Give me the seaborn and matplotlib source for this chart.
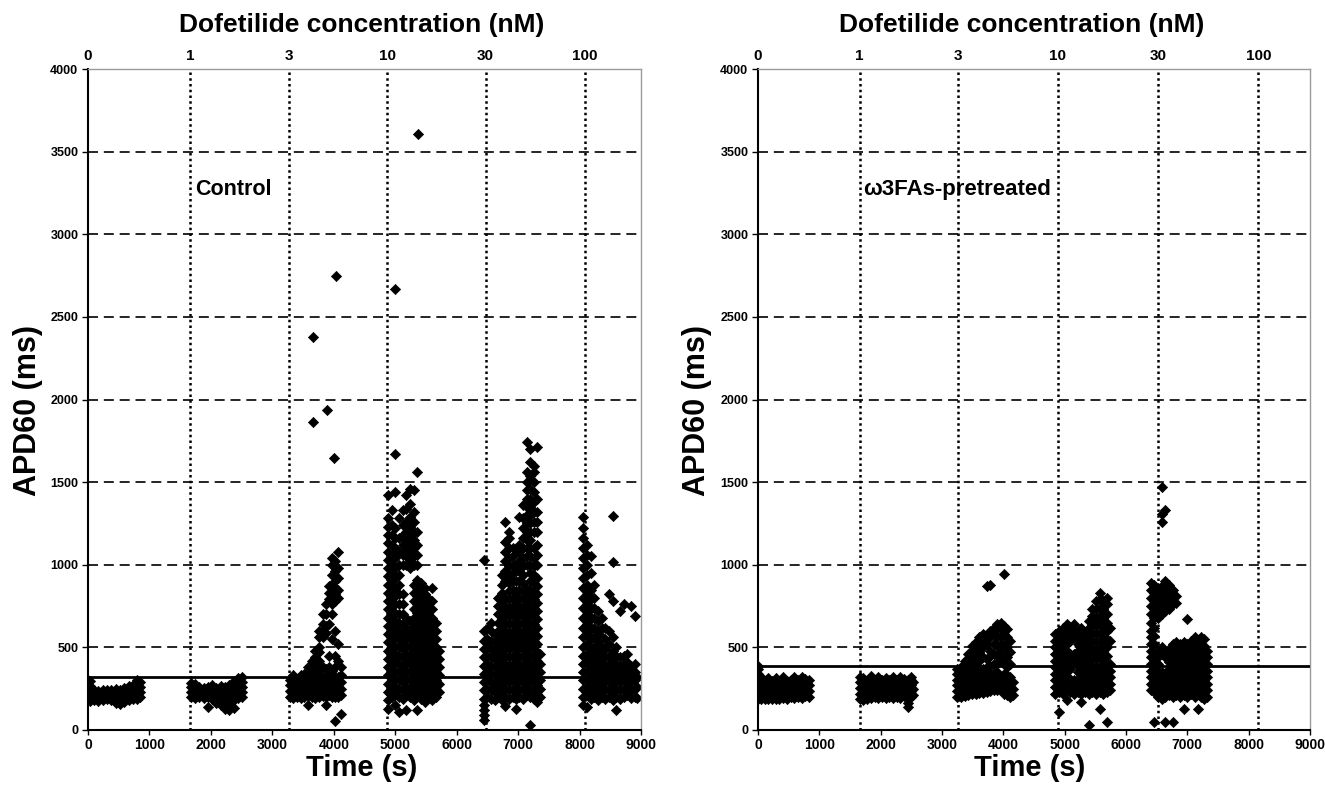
import matplotlib
matplotlib.use("Agg")
import matplotlib.pyplot as plt
import seaborn as sns
import pandas as pd

# ---------------- data ----------------
conc_labels = ["0", "1", "3", "10", "30", "100"]
ctrl_conc_times = [0, 1660, 3270, 4870, 6470, 8090]
omega_conc_times = [0, 1655, 3265, 4890, 6525, 8160]
ctrl_threshold = 320
omega_threshold = 390

# Control: (time, [APD60 values at that time])
ctrl_0nM = [
    (0, [185, 215, 245, 280, 305]), (40, [175, 205, 235, 265, 295]),
    (100, [180, 210, 240]), (170, [175, 205, 235]), (240, [180, 210, 240]),
    (310, [185, 215, 245]), (380, [180, 210, 240]), (450, [165, 195, 225, 250]),
    (520, [160, 190, 220, 245]), (590, [170, 200, 230, 255]),
    (660, [180, 210, 240, 265]), (730, [185, 215, 245, 275]),
    (800, [190, 220, 250, 280, 300]), (850, [200, 230, 260, 290]),
]
ctrl_1nM = [
    (1680, [200, 230, 260, 285]), (1740, [195, 225, 255, 280]),
    (1810, [200, 230, 260]), (1880, [195, 225, 255]),
    (1950, [140, 200, 230, 260]), (2020, [190, 220, 250, 270]),
    (2090, [165, 195, 225, 255]), (2160, [150, 175, 205, 235, 265]),
    (2230, [130, 160, 200, 230, 260]), (2300, [120, 150, 185, 215, 245, 270]),
    (2370, [135, 180, 210, 240, 270, 295]), (2440, [195, 225, 255, 285, 315]),
    (2510, [200, 230, 260, 290, 320]),
]
ctrl_3nM = [
    (3280, [200, 235, 270, 305]), (3340, [195, 230, 265, 300, 330]),
    (3400, [200, 235, 270, 305]), (3460, [195, 230, 265, 300, 335]),
    (3520, [200, 235, 270, 305, 340]),
    (3580, [150, 205, 240, 275, 310, 350, 380]),
    (3640, [200, 235, 270, 305, 340, 380, 420]),
    (3700, [195, 230, 265, 300, 340, 390, 440, 480]),
    (3760, [200, 235, 270, 310, 360, 420, 470, 500, 560, 600]),
    (3820, [205, 240, 280, 320, 380, 560, 600, 640, 700]),
    (3870, [150, 200, 240, 280, 320, 370, 590, 630, 700, 760]),
    (3920, [210, 250, 290, 330, 380, 450, 640, 790, 830, 870]),
    (3970, [200, 240, 280, 320, 360, 550, 700, 760, 820, 880, 940, 1000, 1040]),
    (4020, [55, 200, 240, 280, 320, 380, 450, 600, 780, 820, 860, 900, 960, 1020]),
    (4070, [200, 240, 280, 320, 420, 520, 800, 850, 920, 980, 1080]),
    (4110, [95, 210, 250, 290, 330, 380]),
]
ctrl_10nM = [
    (4880, [130, 180, 230, 280, 330, 380, 430, 480, 530, 580, 630, 680, 730, 780, 830, 880, 930, 980, 1030, 1080, 1130, 1180, 1230, 1280, 1420]),
    (4940, [200, 250, 300, 350, 400, 450, 500, 550, 600, 650, 700, 750, 800, 850, 900, 950, 1000, 1060, 1120, 1180, 1240, 1330]),
    (5000, [150, 210, 260, 310, 360, 410, 460, 510, 560, 610, 660, 710, 760, 810, 860, 920, 980, 1040, 1100, 1160, 1220, 1440, 1670]),
    (5060, [110, 200, 250, 300, 350, 400, 450, 500, 550, 600, 650, 700, 760, 820, 880, 940, 1000, 1080, 1160, 1280]),
    (5120, [190, 240, 290, 340, 390, 440, 490, 540, 590, 640, 700, 760, 820, 1000, 1060, 1120, 1180, 1240, 1330]),
    (5180, [120, 210, 260, 310, 360, 410, 460, 510, 560, 620, 680, 1000, 1050, 1100, 1150, 1200, 1260, 1340, 1420]),
    (5240, [200, 250, 300, 350, 400, 450, 500, 550, 600, 660, 980, 1030, 1080, 1130, 1180, 1230, 1290, 1370, 1460]),
    (5300, [180, 230, 280, 330, 380, 430, 480, 530, 580, 630, 680, 730, 780, 830, 880, 1000, 1050, 1100, 1150, 1200, 1260, 1320, 1450]),
    (5360, [120, 210, 260, 310, 360, 410, 460, 510, 560, 610, 660, 710, 760, 810, 860, 910, 1000, 1060, 1120, 1200, 1560]),
    (5420, [190, 240, 290, 340, 390, 440, 490, 540, 590, 640, 690, 740, 790, 840, 890]),
    (5480, [170, 220, 270, 320, 370, 420, 470, 520, 570, 620, 670, 720, 770, 820, 860]),
    (5540, [200, 250, 300, 350, 400, 450, 500, 550, 600, 650, 700, 750, 800]),
    (5600, [180, 230, 280, 330, 380, 430, 480, 530, 580, 630, 680, 730, 780, 860]),
    (5660, [200, 250, 300, 350, 400, 450, 500, 550, 600, 650]),
    (5710, [230, 280, 330, 380, 430, 480]),
]
ctrl_30nM = [
    (6440, [60, 90, 120, 150, 190, 240, 290, 340, 390, 440, 490, 540, 600, 1030]),
    (6500, [200, 250, 300, 350, 400, 450, 500, 550, 610]),
    (6560, [190, 240, 290, 340, 390, 440, 490, 540, 600, 650]),
    (6620, [180, 230, 280, 330, 380, 430, 480, 530, 580]),
    (6680, [200, 250, 300, 350, 400, 450, 500, 550, 600, 650, 700, 750, 800]),
    (6740, [180, 230, 280, 330, 380, 430, 480, 530, 580, 630, 680, 730, 780, 830, 880, 940]),
    (6790, [145, 200, 250, 300, 350, 400, 450, 500, 550, 600, 650, 700, 750, 800, 900, 960, 1020, 1080, 1140, 1260]),
    (6850, [190, 240, 290, 340, 390, 440, 490, 540, 590, 640, 690, 740, 790, 840, 890, 940, 990, 1040, 1100, 1160, 1200]),
    (6910, [200, 250, 300, 350, 400, 450, 500, 550, 600, 650, 700, 750, 800, 850, 900, 950, 1000, 1050, 1100]),
    (6960, [130, 190, 240, 290, 340, 390, 440, 490, 540, 590, 640, 690, 740, 790, 840, 900, 960, 1000]),
    (7020, [200, 250, 300, 350, 400, 450, 500, 550, 600, 650, 700, 750, 800, 850, 900, 960, 1020, 1080, 1120, 1290]),
    (7080, [190, 240, 290, 340, 390, 440, 490, 540, 590, 640, 690, 740, 790, 840, 890, 940, 990, 1040, 1100, 1160, 1220, 1280, 1360]),
    (7140, [210, 260, 310, 360, 410, 460, 510, 560, 610, 660, 710, 760, 810, 855, 1000, 1050, 1100, 1150, 1200, 1250, 1300, 1350, 1400, 1450, 1500, 1560, 1740]),
    (7200, [30, 200, 250, 300, 350, 400, 450, 500, 550, 600, 650, 700, 750, 800, 850, 900, 950, 1000, 1050, 1100, 1150, 1200, 1250, 1300, 1350, 1400, 1460, 1540, 1620, 1700]),
    (7260, [190, 240, 290, 340, 390, 440, 490, 540, 590, 640, 690, 740, 790, 840, 890, 940, 990, 1040, 1100, 1200, 1260, 1320, 1380, 1440, 1500, 1560, 1600]),
    (7310, [170, 220, 270, 320, 370, 420, 470, 520, 570, 620, 670, 720, 770, 820, 870, 920, 1000, 1060, 1120, 1200, 1260, 1320, 1400, 1715]),
    (7350, [200, 250, 300, 350, 400, 460]),
]
ctrl_100nM = [
    (8060, [150, 200, 250, 300, 350, 400, 450, 500, 560, 620, 680, 740, 800, 860, 920, 980, 1040, 1100, 1160, 1220, 1290]),
    (8120, [140, 210, 260, 310, 360, 410, 460, 520, 580, 640, 700, 760, 820, 880, 940, 1000, 1060, 1120]),
    (8180, [190, 240, 290, 340, 390, 440, 490, 550, 610, 670, 730, 790, 850, 950, 1050]),
    (8240, [200, 250, 300, 350, 400, 450, 500, 560, 620, 680, 740, 800, 880]),
    (8300, [180, 230, 280, 330, 380, 430, 480, 540, 600, 660, 720]),
    (8360, [200, 250, 300, 350, 400, 450, 500, 560, 620, 680]),
    (8420, [190, 240, 290, 340, 390, 440, 490, 550, 620]),
    (8480, [200, 250, 300, 350, 400, 450, 520, 600, 820]),
    (8540, [180, 230, 280, 330, 380, 430, 480, 560, 780, 1015, 1295]),
    (8600, [120, 200, 250, 300, 350, 400, 450, 500]),
    (8660, [190, 240, 290, 340, 390, 440, 720]),
    (8720, [200, 250, 300, 350, 400, 450, 760]),
    (8780, [210, 260, 310, 360, 410, 460]),
    (8840, [195, 240, 290, 340, 390, 750]),
    (8900, [200, 250, 300, 350, 400, 690]),
    (8930, [195, 260, 320]),
]
ctrl_outliers = [
    (3667, [1863, 2377]), (3895, [1935]), (4004, [1648]), (4036, [2745]),
    (4997, [2670]), (5376, [3605]),
]

# omega-3 fatty acids pretreated
omega_0nM = [
    (0, [190, 225, 260, 295, 340, 370, 385]), (50, [185, 220, 255, 290, 320]),
    (110, [190, 225, 260, 295]), (170, [185, 220, 255, 290, 315]),
    (230, [190, 225, 260, 295]), (290, [185, 220, 255, 290, 315]),
    (350, [190, 225, 260, 295]), (410, [195, 230, 265, 300, 320]),
    (470, [190, 225, 260, 295]), (530, [200, 235, 270, 305]),
    (590, [195, 230, 265, 300, 320]), (650, [200, 235, 270, 305]),
    (710, [195, 230, 265, 300, 320]), (770, [205, 240, 275, 310]),
    (830, [200, 235, 270, 305]),
]
omega_1nM = [
    (1660, [185, 220, 255, 290, 320]), (1720, [180, 215, 250, 285, 315]),
    (1780, [190, 225, 260, 295]), (1840, [195, 230, 265, 300, 325]),
    (1900, [200, 235, 270, 305]), (1960, [195, 230, 265, 300, 320]),
    (2020, [200, 235, 270, 305]), (2080, [195, 230, 265, 300, 315]),
    (2140, [200, 235, 270, 305]), (2200, [195, 230, 265, 300, 320]),
    (2260, [200, 235, 270, 305]), (2320, [195, 230, 265, 300, 320]),
    (2380, [205, 240, 275, 310]), (2440, [140, 165, 195, 230, 265, 300]),
    (2490, [200, 235, 270, 305, 320]), (2530, [210, 250, 290]),
]
omega_3nM = [
    (3250, [200, 235, 270, 305, 340, 370]),
    (3310, [200, 235, 270, 305, 340, 380]),
    (3370, [205, 240, 275, 310, 345, 390, 420]),
    (3430, [210, 245, 280, 315, 350, 390, 430, 460]),
    (3490, [215, 250, 285, 320, 355, 400, 440, 480, 510]),
    (3550, [220, 255, 290, 325, 360, 410, 450, 490, 530]),
    (3610, [225, 260, 295, 330, 365, 420, 470, 520, 560]),
    (3670, [225, 260, 295, 330, 370, 440, 500, 540, 580]),
    (3730, [230, 265, 300, 335, 380, 430, 520, 570, 870]),
    (3780, [235, 270, 305, 340, 390, 450, 480, 560, 600, 880]),
    (3840, [240, 275, 310, 345, 400, 460, 520, 580, 620]),
    (3900, [245, 280, 315, 350, 400, 450, 510, 560, 610, 640]),
    (3960, [240, 280, 320, 420, 470, 520, 570, 620, 650]),
    (4010, [220, 260, 300, 340, 400, 460, 520, 580, 630, 945]),
    (4060, [210, 250, 290, 330, 380, 440, 500, 560, 610]),
    (4110, [200, 240, 280, 320, 400, 470, 540]),
    (4150, [210, 250, 290]),
]
omega_10nM = [
    (4850, [220, 260, 300, 340, 380, 420, 460, 500, 540, 580]),
    (4910, [110, 230, 270, 310, 350, 390, 430, 470, 510, 550, 600]),
    (4970, [220, 260, 300, 340, 380, 420, 460, 500, 540, 580, 620]),
    (5030, [180, 240, 280, 320, 360, 400, 440, 480, 520, 560, 600, 640]),
    (5090, [230, 270, 310, 370, 420, 460, 540, 580, 620]),
    (5150, [220, 260, 300, 420, 460, 560, 600, 640]),
    (5210, [230, 270, 310, 350, 390, 440, 480, 520, 560, 600]),
    (5270, [170, 220, 260, 300, 340, 380, 420, 460, 500, 540, 580, 620]),
    (5330, [230, 270, 310, 350, 390, 430, 470, 510, 550, 590]),
    (5390, [30, 220, 260, 300, 340, 380, 420, 460, 500, 540, 580, 620, 660]),
    (5450, [230, 270, 310, 350, 390, 440, 490, 540, 590, 640, 690, 730]),
    (5510, [220, 260, 300, 340, 380, 430, 480, 530, 580, 630, 680, 730, 780]),
    (5570, [125, 230, 270, 310, 350, 390, 440, 490, 540, 590, 640, 690, 740, 790, 830]),
    (5630, [220, 260, 300, 340, 380, 430, 480, 530, 580, 630, 680, 730, 780]),
    (5690, [50, 230, 270, 310, 350, 400, 450, 500, 550, 600, 650, 700, 760, 800]),
    (5740, [240, 280, 320, 360, 400, 540, 620]),
]
omega_30nM = [
    (6400, [240, 280, 320, 360, 400, 440, 480, 520, 560, 600, 650, 700, 750, 800, 850, 890]),
    (6460, [50, 230, 270, 310, 350, 390, 430, 470, 520, 570, 620, 680, 730, 780, 830, 880]),
    (6520, [200, 240, 280, 320, 360, 400, 440, 480, 680, 720, 760, 800, 860]),
    (6580, [190, 230, 270, 310, 350, 460, 500, 700, 740, 780, 820, 870, 1260, 1310, 1470]),
    (6640, [50, 200, 240, 280, 320, 440, 480, 720, 760, 800, 850, 900, 1330]),
    (6700, [210, 250, 290, 330, 370, 410, 450, 490, 730, 780, 830, 880]),
    (6760, [50, 200, 240, 280, 320, 360, 400, 440, 480, 520, 760, 800, 850]),
    (6820, [210, 250, 290, 330, 370, 410, 450, 490, 530, 770, 810]),
    (6880, [200, 240, 280, 320, 360, 400, 440, 480, 520]),
    (6940, [130, 210, 250, 290, 330, 370, 410, 450, 490, 530]),
    (7000, [200, 240, 280, 320, 360, 400, 440, 480, 520, 670]),
    (7060, [220, 260, 300, 340, 380, 420, 460, 500, 540]),
    (7120, [200, 240, 280, 320, 360, 400, 440, 480, 520, 560]),
    (7170, [130, 220, 260, 300, 340, 380, 420, 460, 500, 540]),
    (7220, [200, 240, 280, 320, 360, 400, 440, 480, 520, 560]),
    (7270, [190, 230, 270, 310, 350, 390, 430, 470, 510, 550]),
    (7320, [200, 240, 280, 320, 360, 400, 440, 480]),
]

# ---------------- helpers ----------------
def to_frame(*segments):
    rows = [(t, v) for seg in segments for t, vals in seg for v in vals]
    return pd.DataFrame(rows, columns=["Time (s)", "APD60 (ms)"])


ctrl_df = to_frame(ctrl_0nM, ctrl_1nM, ctrl_3nM, ctrl_10nM, ctrl_30nM,
                   ctrl_100nM, ctrl_outliers)
omega_df = to_frame(omega_0nM, omega_1nM, omega_3nM, omega_10nM, omega_30nM)

sns.set_theme(style="white")
plt.rcParams["font.family"] = ["Liberation Sans", "DejaVu Sans"]
plt.rcParams["font.weight"] = "bold"
plt.rcParams["text.color"] = "black"
plt.rcParams["axes.labelcolor"] = "black"
plt.rcParams["xtick.color"] = "black"
plt.rcParams["ytick.color"] = "black"

W, H = 1325, 785
fig = plt.figure(figsize=(W / 100, H / 100), dpi=100)


def px_axes(x0, x1, y0, y1):
    return fig.add_axes([x0 / W, 1 - y1 / H, (x1 - x0) / W, (y1 - y0) / H])


ax1 = px_axes(88, 641, 69, 730)
ax2 = px_axes(758, 1310, 69, 730)


def draw_panel(ax, df, conc_times, threshold, label, label_x, label_size):
    for yv in range(500, 4000, 500):
        ax.axhline(yv, color="black", lw=1.2, ls=(0, (6, 3.5)), zorder=1)
    for xv in conc_times[1:]:
        ax.axvline(xv, color="black", lw=1.8, ls=(0, (1, 1.3)), zorder=1)
    ax.axhline(threshold, color="black", lw=2.0, zorder=3)
    sns.scatterplot(data=df, x="Time (s)", y="APD60 (ms)", marker="D",
                    s=27, color="black", linewidth=0.5, edgecolor="black",
                    ax=ax, zorder=2, legend=False)
    ax.set_xlim(0, 9000)
    ax.set_ylim(0, 4000)
    ax.set_xticks(range(0, 9001, 1000))
    ax.set_yticks(range(0, 4001, 500))
    ax.tick_params(axis="x", labelsize=10, length=3.5, width=1, direction="out",
                   pad=2, bottom=True, colors="black")
    ax.tick_params(axis="y", labelsize=9, length=4, width=1, direction="out",
                   pad=3, left=True, colors="black")
    for lab in ax.get_xticklabels() + ax.get_yticklabels():
        lab.set_fontweight("bold")
    ax.set_xlabel("")
    ax.set_ylabel("")
    for side in ("top", "right"):
        ax.spines[side].set_color("#9a9a9a")
        ax.spines[side].set_linewidth(1.0)
    for side in ("bottom", "left"):
        ax.spines[side].set_color("black")
        ax.spines[side].set_linewidth(1.5)
    top = ax.secondary_xaxis("top")
    top.set_xticks(conc_times, conc_labels)
    top.tick_params(length=0, pad=4, labelsize=11, colors="black")
    for lab in top.get_xticklabels():
        lab.set_fontweight("bold")
    top.spines["top"].set_visible(False)
    ax.text(label_x, 3270, label, fontsize=label_size, fontweight="bold",
            color="black", ha="left", va="center")


draw_panel(ax1, ctrl_df, ctrl_conc_times, ctrl_threshold, "Control", 1740, 15.5)
draw_panel(ax2, omega_df, omega_conc_times, omega_threshold,
           "ω3FAs-pretreated", 1710, 16)

for cx, tx in ((362, "Dofetilide concentration (nM)"),
               (1022, "Dofetilide concentration (nM)")):
    fig.text(cx / W, 1 - 25 / H, tx, fontsize=19, fontweight="bold",
             color="black", ha="center", va="center")
for cx in (362, 1030):
    fig.text(cx / W, 1 - 768 / H, "Time (s)", fontsize=21, fontweight="bold",
             color="black", ha="center", va="center")
for cx in (28, 697):
    fig.text(cx / W, 1 - 410 / H, "APD60 (ms)", fontsize=22, fontweight="bold",
             color="black", ha="center", va="center", rotation=90)

fig.savefig("out.png", dpi=100, facecolor="white")
